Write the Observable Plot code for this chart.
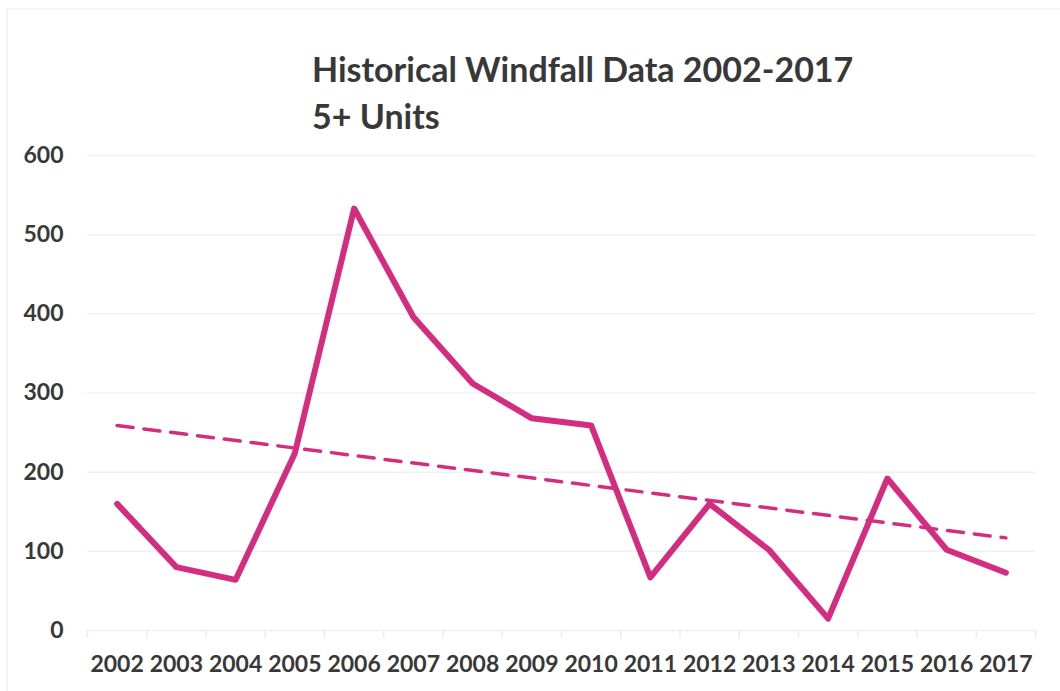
<!DOCTYPE html>
<html>
<head>
<meta charset="utf-8">
<script src="https://cdn.jsdelivr.net/npm/d3@7"></script>
<script src="https://cdn.jsdelivr.net/npm/@observablehq/plot@0.6"></script>
<style>
  html, body { margin: 0; padding: 0; background: #ffffff; }
  #frame { position: absolute; left: 6px; top: 8px; width: 1054px; height: 683px;
           border-left: 2px solid #f4f4f4; border-top: 2px solid #f4f4f4; }
  #page { position: relative; width: 1060px; height: 691px; }
  #title { position: absolute; left: 312px; top: 0; height: 140px; width: 700px;
           font-family: Lato, sans-serif; font-weight: 700; color: #383838;
           font-size: 34px; line-height: 47px; padding-top: 45px; box-sizing: border-box; }
  #chart { position: absolute; left: 0; top: 140px; }
</style>
</head>
<body>
<div id="page">
  <div id="frame"></div>
  <div id="title"><div>Historical Windfall Data 2002-2017</div><div>5+ Units</div></div>
  <div id="chart"></div>
</div>
<script>
const years = [2002, 2003, 2004, 2005, 2006, 2007, 2008, 2009, 2010, 2011, 2012, 2013, 2014, 2015, 2016, 2017];
const windfall = [160, 80, 64, 224, 533, 396, 312, 268, 259, 67, 160, 102, 15, 192, 102, 73];
const yTicks = [0, 100, 200, 300, 400, 500, 600];

const data = years.map((year, i) => ({year, value: windfall[i]}));
const boundaries = [years[0] - 0.5, ...years.map(y => y + 0.5)];
const color = "#d42d80";
const textColor = "#383838";

const chart = Plot.plot({
  width: 1060,
  height: 551,
  marginTop: 15,
  marginBottom: 61,
  marginLeft: 87,
  marginRight: 25,
  style: { fontFamily: "Lato, sans-serif", fontSize: "23px", fontWeight: "700", color: textColor, background: "transparent" },
  x: { type: "linear", domain: [years[0] - 0.5, years[years.length - 1] + 0.5] },
  y: { domain: [0, 600] },
  marks: [
    Plot.ruleY(yTicks, { stroke: "#f0f0f0", strokeWidth: 1.5 }),
    Plot.ruleX(boundaries, { y1: 0, y2: 0, insetBottom: -8, stroke: "#ebebeb", strokeWidth: 1.5 }),
    Plot.axisY(yTicks, { tickSize: 0, tickPadding: 24, label: null, fill: textColor }),
    Plot.axisX(years, { tickSize: 0, tickPadding: 25, tickFormat: d => String(d), label: null, fill: textColor }),
    Plot.linearRegressionY(data, { x: "year", y: "value", ci: 0, stroke: color, strokeWidth: 3.5, strokeDasharray: "16,11" }),
    Plot.line(data, { x: "year", y: "value", stroke: color, strokeWidth: 6, strokeLinejoin: "round", strokeLinecap: "round" })
  ]
});
document.getElementById("chart").appendChild(chart);
</script>
</body>
</html>
